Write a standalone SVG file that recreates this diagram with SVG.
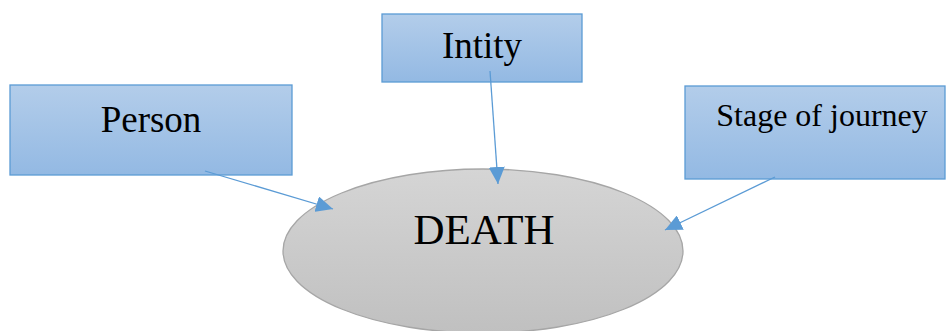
<svg xmlns="http://www.w3.org/2000/svg" width="946" height="331" viewBox="0 0 946 331">
<style>
.box{fill:url(#bg);stroke:#5b9bd5;stroke-width:1.3}
.lbl{font-family:"Liberation Serif","Times New Roman",serif;fill:#000;text-anchor:middle}
.conn{stroke:#5b9bd5;stroke-width:1.3;fill:none;marker-end:url(#ah)}
</style>
<defs>
<linearGradient id="bg" x1="0" y1="0" x2="0" y2="1">
<stop offset="0" stop-color="#b3cdea"/>
<stop offset="1" stop-color="#93b9e3"/>
</linearGradient>
<linearGradient id="eg" x1="0" y1="0" x2="0" y2="1">
<stop offset="0" stop-color="#d5d5d5"/>
<stop offset="1" stop-color="#c0c0c0"/>
</linearGradient>
<marker id="ah" markerUnits="userSpaceOnUse" markerWidth="18" markerHeight="16" refX="17" refY="8" orient="auto">
<path d="M0,0 L17,8 L0,16 Z" fill="#5b9bd5"/>
</marker>
</defs>
<g id="death">
<ellipse cx="483" cy="251" rx="200" ry="82" fill="url(#eg)" stroke="#a6a6a6" stroke-width="1.3"/>
<text class="lbl" x="484" y="244" font-size="43">DEATH</text>
</g>
<g id="person">
<rect class="box" x="10" y="85" width="282" height="90"/>
<text class="lbl" x="151" y="132" font-size="37">Person</text>
</g>
<g id="intity">
<rect class="box" x="382" y="14" width="200" height="68"/>
<text class="lbl" x="482" y="58" font-size="37">Intity</text>
</g>
<g id="stage">
<rect class="box" x="685" y="86" width="260" height="93"/>
<text class="lbl" x="822" y="126" font-size="32">Stage of journey</text>
</g>
<g id="connectors">
<line class="conn" x1="205" y1="171" x2="333" y2="209"/>
<line class="conn" x1="490" y1="71" x2="498" y2="184"/>
<line class="conn" x1="775" y1="177" x2="665" y2="230"/>
</g>
</svg>
